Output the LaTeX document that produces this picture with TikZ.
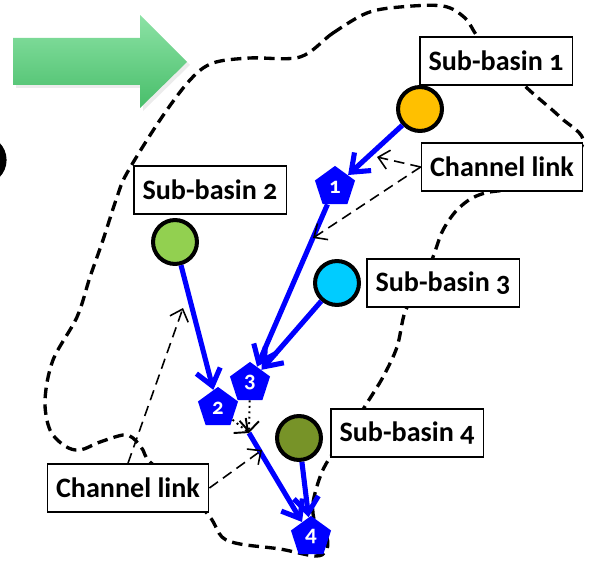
\documentclass[tikz,border=0pt]{standalone}
\usepackage{fontspec}
\setmainfont{Carlito}[Numbers=OldStyle]
\usetikzlibrary{positioning}
\usetikzlibrary{shapes.geometric}
\usetikzlibrary{arrows.meta}

\definecolor{naranja}{RGB}{255,192,0}
\definecolor{verdeclaro}{RGB}{146,208,80}
\definecolor{cian}{RGB}{0,204,255}
\definecolor{oliva}{RGB}{119,147,40}
\definecolor{flechaarriba}{RGB}{140,226,165}
\definecolor{flechaabajo}{RGB}{72,190,106}

\begin{document}
\begin{tikzpicture}[x=0.02cm, y=-0.02cm,
  every node/.style={font=\fontsize{16}{19}\selectfont\bfseries},
  etiqueta/.style={draw, fill=white, line width=0.8pt, minimum height=27.5pt, inner xsep=5pt},
  subcuenca/.style={draw, circle, line width=2.3pt, minimum size=25pt, inner sep=0pt},
  nudo/.style={regular polygon, regular polygon sides=5, fill=blue, text=white, minimum size=24pt, inner sep=0pt, font=\fontsize{13}{13}\selectfont\bfseries},
  cauce/.style={blue, line width=2.9pt, -{Straight Barb[length=9pt,width=14pt]}},
  enlace/.style={black, line width=0.9pt, dash pattern=on 6pt off 3.5pt, -{Straight Barb[length=6pt,width=11pt]}},
  union/.style={black, line width=1.1pt, dotted, -{Straight Barb[length=6pt,width=11pt]}},
  cuenca/.style={black, line width=1.9pt, dash pattern=on 6pt off 3.5pt}]
  \useasboundingbox (0,0) rectangle (590,560);

  % Flecha verde y borde
  \fill[black!12, opacity=0.6] (16,41) -- (143,41) -- (143,18) -- (190,65) -- (143,111) -- (143,88) -- (16,88) -- cycle;
  \shade[top color=flechaarriba, bottom color=flechaabajo] (13,38) -- (140,38) -- (140,15) -- (187,62) -- (140,108) -- (140,85) -- (13,85) -- cycle;
  \fill[black] (-18,160) circle [radius=14pt];

  % Cuenca
  \draw[cuenca] plot[smooth cycle, tension=0.55] coordinates {
    (300,57) (333,33) (367,13) (400,7) (443,6) (465,18) (478,37) (503,62)
    (527,88) (560,117) (583,143) (545,183) (485,193) (460,207) (443,230)
    (433,257) (420,285) (405,312) (397,347) (383,377) (367,403) (350,430)
    (329,459) (320,477) (313,503) (315,522) (327,538) (326,551) (315,556)
    (280,549) (240,544) (222,537) (210,517) (185,490) (150,462) (143,450)
    (133,438) (123,435) (100,442) (80,450) (65,446) (50,430) (45,400)
    (53,360) (77,317) (90,277) (103,240) (117,197) (127,173) (160,120)
    (190,80) (213,63) (250,58)};

  % Subcuencas
  \node[subcuenca, fill=naranja] (sb1) at (420,109) {};
  \node[subcuenca, fill=verdeclaro] (sb2) at (175,242) {};
  \node[subcuenca, fill=cian] (sb3) at (337,283) {};
  \node[subcuenca, fill=oliva] (sb4) at (299,438) {};

  % Etiquetas
  \node[etiqueta] (lbl1) at (496,61) {Sub-basin 1};
  \node[etiqueta] (lbl2) at (210,190) {Sub-basin 2};
  \node[etiqueta] (lbl3) at (443,283) {Sub-basin 3};
  \node[etiqueta] (lbl4) at (407,433) {Sub-basin 4};
  \node[etiqueta] (cl1) at (502,167) {Channel link};
  \node[etiqueta] (cl2) at (128,488) {Channel link};

  % Nudos del cauce
  \node[nudo] (p1) at (335,187) {1};
  \node[nudo] (p2) at (218,408) {2};
  \node[nudo] (p3) at (250,383) {3};
  \node[nudo] (p4) at (311,537) {4};
  \coordinate (j) at (249,433);

  % Cauces
  \draw[cauce] (sb1) -- (p1);
  \draw[cauce] (p1) -- (p3);
  \draw[cauce] (sb3) -- (p3);
  \draw[cauce] (sb2) -- (p2);
  \draw[cauce] (j) -- (p4);
  \draw[cauce] (sb4) -- (p4);
  \draw[union] (p2) -- (j);
  \draw[union] (p3) -- (j);

  % Enlaces
  \coordinate (e1) at (377,157);
  \coordinate (e2) at (313,238);
  \coordinate (e3) at (183,308);
  \coordinate (e4) at (262,450);
  \draw[enlace] (cl1.west) -- (e1);
  \draw[enlace] (cl1.west) -- (e2);
  \draw[enlace] (cl2.north) -- (e3);
  \draw[enlace] (cl2.east) -- (e4);
\end{tikzpicture}
\end{document}
